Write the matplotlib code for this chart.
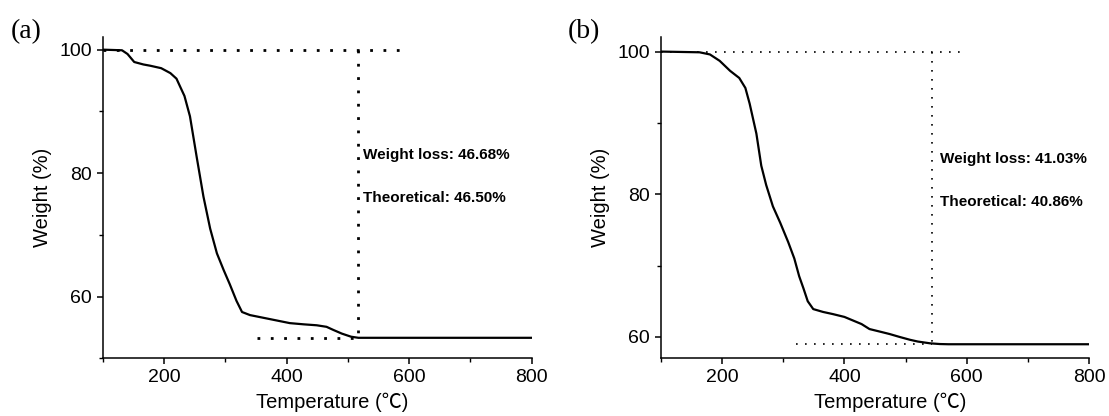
import matplotlib
matplotlib.use("Agg")
import matplotlib.pyplot as plt
from matplotlib.ticker import MultipleLocator

# ----- DATA -----
temp_a = [100, 131, 140, 151, 166, 177, 195, 210, 220, 226, 233, 242, 253,
          264, 275, 286, 297, 307, 318, 327, 340, 370, 405, 428, 449, 465,
          476, 490, 505, 517, 600, 700, 800]
weight_a = [100.0, 99.9, 99.3, 98.0, 97.6, 97.4, 97.0, 96.2, 95.3, 94.0, 92.5,
            89.2, 82.6, 76.2, 71.0, 67.0, 64.3, 62.0, 59.3, 57.5, 57.0, 56.4,
            55.7, 55.5, 55.35, 55.1, 54.6, 54.0, 53.5, 53.32, 53.32, 53.32,
            53.32]

temp_b = [100, 163, 180, 196, 213, 228, 238, 245, 256, 264, 272, 283, 295,
          308, 318, 326, 333, 340, 349, 365, 381, 400, 414, 428, 441, 460,
          474, 490, 507, 520, 540, 556, 570, 700, 800]
weight_b = [100.0, 99.9, 99.6, 98.7, 97.3, 96.3, 94.9, 92.7, 88.5, 84.0, 81.3,
            78.3, 76.0, 73.3, 71.0, 68.5, 66.8, 65.0, 63.9, 63.5, 63.2, 62.8,
            62.3, 61.8, 61.1, 60.7, 60.4, 60.0, 59.6, 59.35, 59.1, 59.0, 58.97,
            58.97, 58.97]

panels = [
    dict(tag="(a)", T=temp_a, W=weight_a, ylim=(50, 102), vline=517,
         top_end=585, low_start=351, final=53.32,
         texts=["Weight loss: 46.68%", "Theoretical: 46.50%"],
         text_T=524, text_W=[82.9, 75.9], dot_lw=2.0, dots=(1, 3.8)),
    dict(tag="(b)", T=temp_b, W=weight_b, ylim=(57, 102), vline=544,
         top_end=595, low_start=320, final=58.97,
         texts=["Weight loss: 41.03%", "Theoretical: 40.86%"],
         text_T=557, text_W=[84.9, 78.85], dot_lw=1.2, dots=(1, 4.4)),
]

SANS = ["Liberation Sans", "Noto Sans CJK SC", "DejaVu Sans"]
plt.rcParams['font.family'] = SANS

fig = plt.figure(figsize=(11.09, 4.16), dpi=100)
boxes = [(103, 428.7), (661, 428.0)]   # left edge, width in px
tag_x = [11, 568]

for p, (lpx, wpx), tx in zip(panels, boxes, tag_x):
    ax = fig.add_axes([lpx / 1109, 0.1387, wpx / 1109, 0.7716])
    ax.plot(p["T"], p["W"], color="black", lw=1.6, zorder=3)

    # guide lines
    ls = (0, p["dots"])
    ax.plot([100, p["top_end"]], [100, 100], color="black", lw=p["dot_lw"], ls=ls)
    ax.plot([p["vline"], p["vline"]], [100, p["final"]], color="black",
            lw=p["dot_lw"], ls=ls)
    ax.plot([p["low_start"], p["vline"]], [p["final"], p["final"]],
            color="black", lw=p["dot_lw"], ls=ls)

    for txt, w in zip(p["texts"], p["text_W"]):
        ax.text(p["text_T"], w, txt, fontsize=11, fontweight="bold",
                ha="left", va="center")

    ax.set_xlim(100, 800)
    ax.set_ylim(*p["ylim"])
    ax.xaxis.set_major_locator(MultipleLocator(200))
    ax.xaxis.set_minor_locator(MultipleLocator(100))
    ax.yaxis.set_major_locator(MultipleLocator(20))
    ax.yaxis.set_minor_locator(MultipleLocator(10))
    ax.spines[["top", "right"]].set_visible(False)
    for s in ("left", "bottom"):
        ax.spines[s].set_linewidth(1.1)
    ax.tick_params(which="major", direction="out", length=4.5, width=1.1,
                   labelsize=14)
    ax.tick_params(which="minor", direction="out", length=3, width=1.0)
    ax.set_xlabel("Temperature (℃)", fontsize=14.5)
    ax.set_ylabel("Weight (%)", fontsize=14.5)
    ax.xaxis.set_label_coords(0.535, -0.108)
    ax.yaxis.set_label_coords(-0.118, 0.5)

    fig.text(tx / 1109, 0.923, p["tag"], fontsize=20,
             family=["Liberation Serif", "DejaVu Serif"], ha="left", va="center")

fig.savefig("out.png", dpi=100)
